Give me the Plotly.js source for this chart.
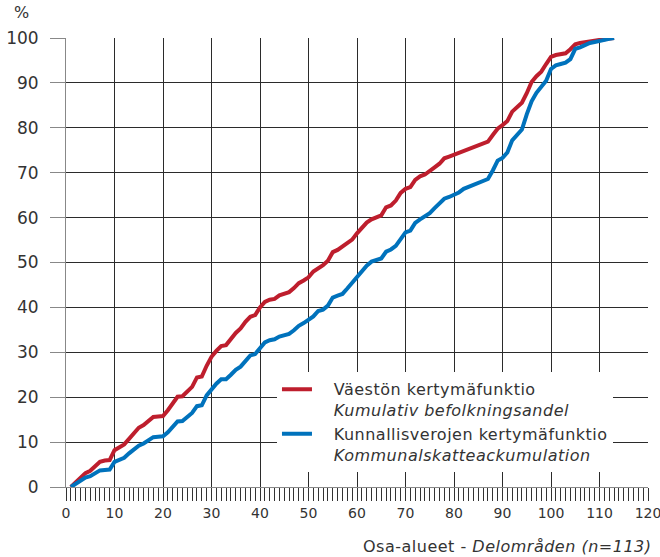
<!DOCTYPE html>
<html>
<head>
<meta charset="utf-8">
<script src="https://cdn.plot.ly/plotly-3.0.1.min.js"></script>
<style>
html,body{margin:0;padding:0;background:#fff;}
#chart{width:660px;height:557px;}
.legendtext, .annotation-text { letter-spacing: 0.5px; }
</style>
</head>
<body>
<div id="chart"></div>
<script>
// Osa-alue index (1..113)
const areaIndex = Array.from({length: 113}, (_, i) => i + 1);

// Väestön kertymäfunktio / Kumulativ befolkningsandel (%)
const populationCum = [
  0, 1.0, 2.0, 3.1, 3.6, 4.6, 5.6, 5.9, 6.0, 8.2,
  8.8, 9.5, 10.7, 11.8, 13.2, 13.8, 14.6, 15.6, 15.7, 15.8,
  17.1, 18.6, 20.1, 20.2, 21.2, 22.3, 24.4, 24.6, 27.0, 29.0,
  30.3, 31.4, 31.6, 33.0, 34.3, 35.3, 36.8, 37.9, 38.3, 40.0,
  41.2, 41.7, 41.9, 42.7, 43.0, 43.4, 44.3, 45.4, 46.0, 46.7,
  48.0, 48.7, 49.4, 50.4, 52.3, 52.8, 53.5, 54.4, 55.1, 56.5,
  57.6, 58.9, 59.6, 60.0, 60.5, 62.3, 62.7, 63.8, 65.5, 66.4,
  66.8, 68.4, 69.2, 69.6, 70.3, 71.2, 72.0, 73.2, 73.6, 74.0,
  74.5, 75.0, 75.4, 75.8, 76.2, 76.5, 76.9, 78.4, 79.8, 80.6,
  81.5, 83.6, 84.6, 85.6, 87.7, 90.2, 91.5, 92.5, 94.2, 95.8,
  96.2, 96.5, 96.6, 97.5, 98.6, 98.9, 99.1, 99.3, 99.5, 99.6,
  99.8, 99.9, 100
];

// Kunnallisverojen kertymäfunktio / Kommunalskatteackumulation (%)
const taxCum = [
  0, 0.7, 1.2, 2.1, 2.4, 3.0, 3.7, 3.8, 3.9, 5.6,
  6.0, 6.5, 7.5, 8.5, 9.2, 9.7, 10.3, 11.1, 11.2, 11.3,
  12.2, 13.5, 14.6, 14.7, 15.6, 16.5, 18.0, 18.2, 20.4, 21.8,
  23.0, 24.0, 24.0, 25.0, 26.1, 26.8, 28.2, 29.3, 29.6, 31.0,
  32.2, 32.7, 32.9, 33.5, 33.7, 34.1, 34.9, 35.9, 36.5, 37.2,
  38.0, 39.2, 39.5, 40.4, 42.2, 42.6, 43.0, 44.2, 45.5, 47.0,
  48.0, 49.3, 50.2, 50.5, 50.9, 52.4, 52.9, 53.7, 55.3, 56.7,
  57.1, 58.8, 59.6, 60.2, 61.0, 62.1, 63.1, 64.2, 64.6, 65.0,
  65.6, 66.4, 66.8, 67.2, 67.6, 68.0, 68.6, 70.5, 72.7, 73.3,
  74.5, 77.2, 78.5, 79.6, 83.0, 85.9, 87.8, 89.0, 90.5, 93.1,
  93.9, 94.2, 94.5, 95.3, 97.6, 97.9, 98.5, 98.9, 99.1, 99.4,
  99.6, 99.8, 100
];

const PAD = '&nbsp;&nbsp;&nbsp;';
const seriesNames = [
  PAD + 'Väestön kertymäfunktio<br>' + PAD + '<i>Kumulativ befolkningsandel</i>',
  PAD + 'Kunnallisverojen kertymäfunktio<br>' + PAD + '<i>Kommunalskatteackumulation</i>'
];
const seriesColors = ['#BE1E2D', '#0072BC'];
const xTickVals = [0, 10, 20, 30, 40, 50, 60, 70, 80, 90, 100, 110, 120];
const yTickVals = [0, 10, 20, 30, 40, 50, 60, 70, 80, 90, 100];
const yUnit = '%';
const xTitle = 'Osa-alueet - <i>Delområden (n=113)</i>';

const FONT = 'DejaVu Sans, Verdana, sans-serif';

const traces = [
  {x: areaIndex, y: populationCum, type: 'scatter', mode: 'lines', name: seriesNames[0],
   line: {color: seriesColors[0], width: 4}},
  {x: areaIndex, y: taxCum, type: 'scatter', mode: 'lines', name: seriesNames[1],
   line: {color: seriesColors[1], width: 4}}
];

const layout = {
  width: 660, height: 557,
  margin: {l: 66, r: 12, t: 38, b: 70},
  paper_bgcolor: '#fff', plot_bgcolor: '#fff',
  font: {family: FONT, color: '#333'},
  showlegend: true,
  legend: {
    x: 0.3625, y: 0.2556, xanchor: 'left', yanchor: 'top',
    bgcolor: '#fff', borderwidth: 0,
    font: {family: FONT, size: 16, color: '#333'},
    valign: 'top', tracegroupgap: 0,
    entrywidth: 322, entrywidthmode: 'pixels'
  },
  xaxis: {
    range: [0, 120], tickmode: 'array', tickvals: xTickVals,
    ticks: 'outside', ticklen: 13, tickcolor: '#333', tickwidth: 1,
    ticklabeloverflow: 'allow',
    showgrid: true, gridcolor: '#2b2b2b', gridwidth: 1,
    minor: {dtick: 1, tick0: 0, ticks: 'outside', ticklen: 13, tickcolor: '#333', tickwidth: 1, showgrid: false},
    showline: true, linecolor: '#888', linewidth: 1,
    zeroline: false, fixedrange: true,
    tickfont: {family: FONT, size: 14, color: '#333'}
  },
  yaxis: {
    range: [0, 100], tickmode: 'array', tickvals: yTickVals,
    ticks: 'outside', ticklen: 15, tickcolor: '#888', tickwidth: 1,
    ticklabelstandoff: 8,
    showgrid: true, gridcolor: '#2b2b2b', gridwidth: 1,
    showline: true, linecolor: '#888', linewidth: 1,
    zeroline: false, fixedrange: true,
    tickfont: {family: FONT, size: 17, color: '#333'}
  },
  annotations: [
    {text: yUnit, xref: 'paper', yref: 'paper', x: 0, y: 1, xanchor: 'center', yanchor: 'bottom',
     xshift: -44, yshift: 14, showarrow: false, font: {family: FONT, size: 16, color: '#333'}},
    {text: xTitle, xref: 'paper', yref: 'paper', x: 1, y: 0, xanchor: 'right', yanchor: 'middle',
     xshift: 5, yshift: -59, showarrow: false, font: {family: FONT, size: 16, color: '#333'}}
  ]
};

Plotly.newPlot('chart', traces, layout, {displayModeBar: false, staticPlot: true});
</script>
</body>
</html>
